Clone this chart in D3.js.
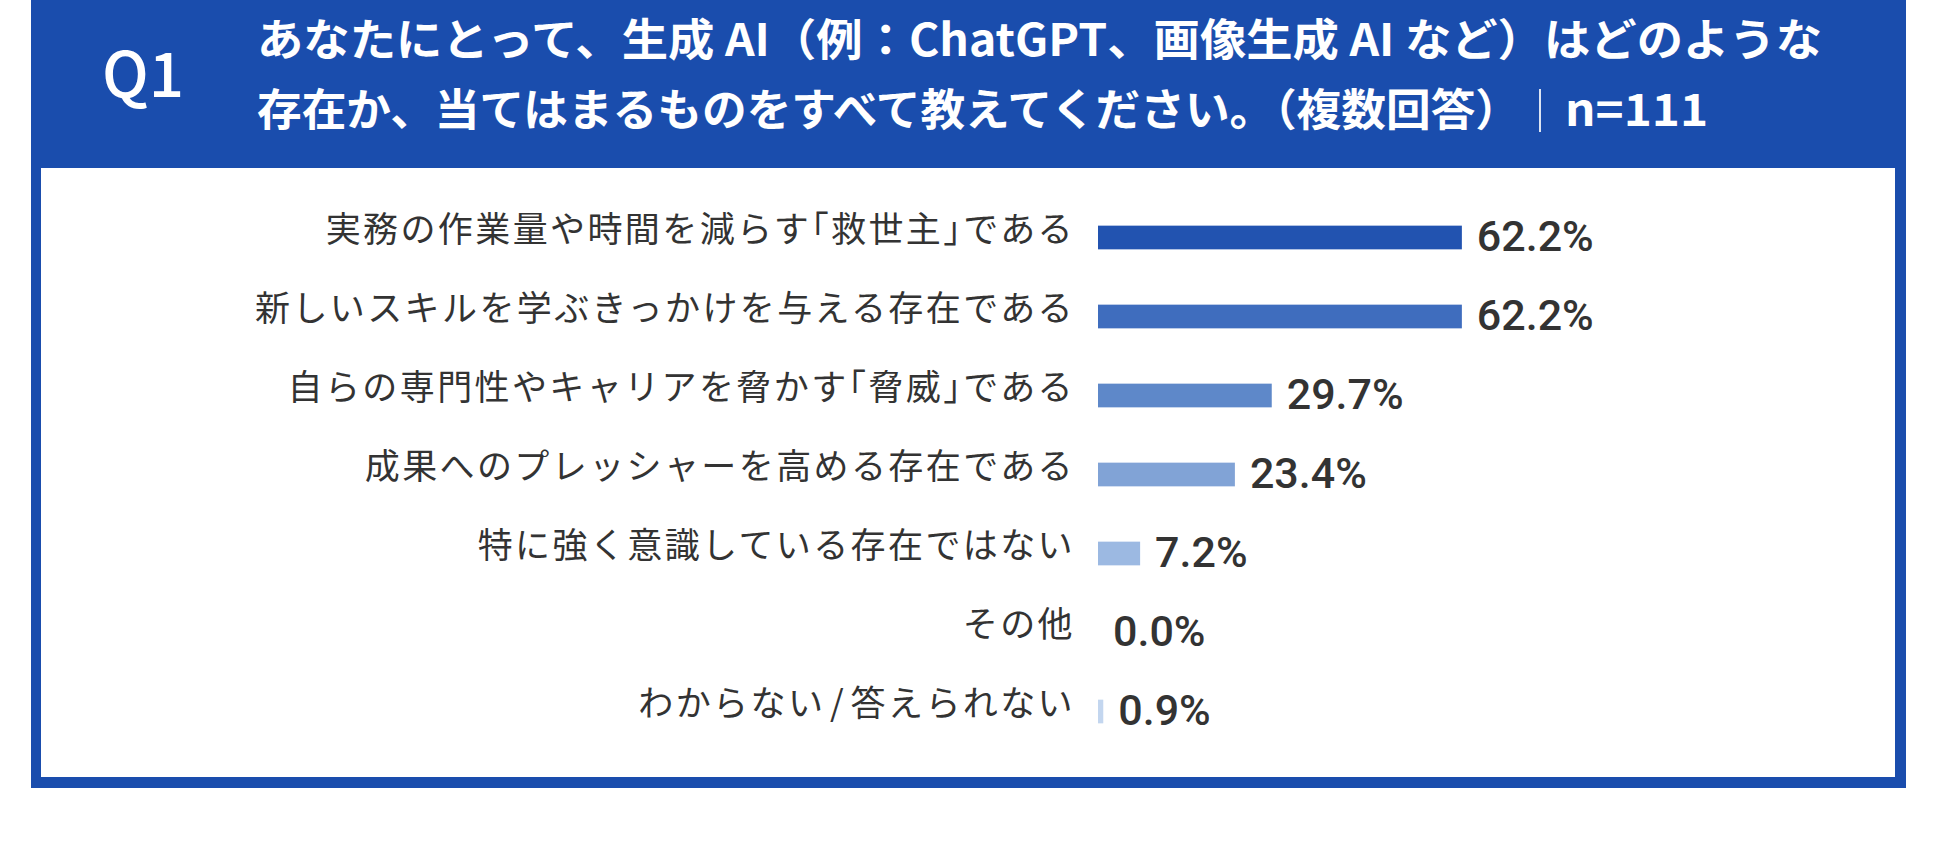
<!DOCTYPE html>
<html>
<head>
<meta charset="utf-8">
<script src="https://cdn.jsdelivr.net/npm/d3@7"></script>
<style>
  html, body { margin: 0; padding: 0; background: #fff; }
</style>
</head>
<body>
<script>
var categories = [
  '実務の作業量や時間を減らす「救世主」である',
  '新しいスキルを学ぶきっかけを与える存在である',
  '自らの専門性やキャリアを脅かす「脅威」である',
  '成果へのプレッシャーを高める存在である',
  '特に強く意識している存在ではない',
  'その他',
  'わからない/答えられない'
]
var values = [62.2, 62.2, 29.7, 23.4, 7.2, 0.0, 0.9]
var barColors = ['#2253b0', '#3f6dbe', '#5e88c9', '#81a3d6', '#9cb9e2', '#b4cbe9', '#c3d6ef']
var questionLabel = 'Q1'
var titleLine1 = 'あなたにとって、生成 AI（例：ChatGPT、画像生成 AI など）はどのような'
var titleLine2 = '存在か、当てはまるものをすべて教えてください。（複数回答）'
var sampleLabel = 'n=111'

var width = 1950
var height = 853
var frameColor = '#1a4dad'
var jpFont = '"Noto Sans CJK JP", "Noto Sans", sans-serif'
var numFont = 'Roboto, "Liberation Sans", Arial, sans-serif'

var svg = d3.select('body').append('svg')
  .attr('width', width)
  .attr('height', height)

// frame + header
svg.append('rect')
  .attr('x', 31)
  .attr('y', 0)
  .attr('width', 1906 - 31)
  .attr('height', 788)
  .style('fill', frameColor)

svg.append('rect')
  .attr('x', 41)
  .attr('y', 168)
  .attr('width', 1895 - 41)
  .attr('height', 777 - 168)
  .style('fill', '#fff')

svg.append('text')
  .attr('x', 102)
  .attr('y', 97)
  .text(questionLabel)
  .style('font-family', jpFont)
  .style('font-weight', '500')
  .style('font-size', '62px')
  .style('fill', '#fff')

function titleText (txt, x0, y0, len) {
  return svg.append('text')
    .attr('x', x0)
    .attr('y', y0)
    .attr('textLength', len)
    .attr('lengthAdjust', 'spacingAndGlyphs')
    .text(txt)
    .style('font-family', jpFont)
    .style('font-weight', '700')
    .style('font-size', '44px')
    .style('fill', '#fff')
}

titleText(titleLine1, 257, 56, 1822 - 257)
titleText(titleLine2, 257, 126, 1520 - 257)
titleText(sampleLabel, 1565, 126, 1708 - 1565)

// separator between question and n
svg.append('line')
  .attr('x1', 1540)
  .attr('x2', 1540)
  .attr('y1', 89)
  .attr('y2', 132)
  .style('stroke', '#fff')
  .style('stroke-width', 2)
  .style('opacity', 0.85)

// scales
var x = d3.scaleLinear()
  .domain([0, 100])
  .range([1098, 1098 + 585])

var y = d3.scaleBand()
  .domain(categories)
  .range([198, 751])
  .paddingInner(0.7)
  .paddingOuter(0.35)

var rows = categories.map(function (c, i) {
  return { label: c, value: values[i], color: barColors[i] }
})

var g = svg.append('g')

g.selectAll('rect.bar')
  .data(rows)
  .enter().append('rect')
  .attr('class', 'bar')
  .attr('x', x(0))
  .attr('y', function (d) { return y(d.label) })
  .attr('width', function (d) { return x(d.value) - x(0) })
  .attr('height', y.bandwidth())
  .style('fill', function (d) { return d.color })

g.selectAll('text.cat')
  .data(rows)
  .enter().append('text')
  .attr('class', 'cat')
  .attr('x', 1075)
  .attr('y', function (d) { return y(d.label) + y.bandwidth() / 2 + 4 })
  .attr('text-anchor', 'end')
  // a little air around the slash, like the original typesetting
  .text(function (d) { return d.label.replace('/', '\u200a/\u200a') })
  .style('font-family', jpFont)
  .style('font-weight', '400')
  .style('font-size', '35px')
  .style('letter-spacing', '2.4px')
  .style('font-feature-settings', '"halt" 1')
  .style('fill', '#333')

g.selectAll('text.val')
  .data(rows)
  .enter().append('text')
  .attr('class', 'val')
  .attr('x', function (d) { return x(d.value) + 15 })
  .attr('y', function (d) { return y(d.label) + y.bandwidth() / 2 + 13 })
  .text(function (d) { return d.value.toFixed(1) + '%' })
  .style('font-family', numFont)
  .style('font-weight', '500')
  .style('font-size', '43px')
  .style('fill', '#333')
</script>
</body>
</html>
